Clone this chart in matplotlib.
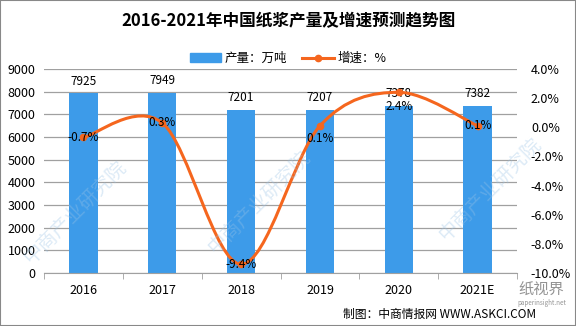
import matplotlib
matplotlib.use("Agg")
import matplotlib.pyplot as plt
from matplotlib.path import Path
from matplotlib.patches import PathPatch
from matplotlib.lines import Line2D
from matplotlib.patches import Patch

plt.rcParams["font.family"] = ["Noto Sans CJK SC", "DejaVu Sans"]

years = ["2016", "2017", "2018", "2019", "2020", "2021E"]
output = [7925, 7949, 7201, 7207, 7378, 7382]
growth = [-0.7, 0.3, -9.4, 0.1, 2.4, 0.1]
growth_labels = ["-0.7%", "0.3%", "-9.4%", "0.1%", "2.4%", "0.1%"]

BAR = "#3d9be9"
LINE = "#f5661e"

fig = plt.figure(figsize=(5.76, 3.26), dpi=100)
ax = fig.add_axes([0.0764, 0.1626, 0.8212, 0.6257])
ax2 = ax.twinx()

x = list(range(len(years)))
ax.bar(x, output, width=0.36, color=BAR, zorder=2)
for xi, v in zip(x, output):
    ax.annotate(str(v), (xi, v), xytext=(0, 4), textcoords="offset points",
                ha="center", va="bottom", fontsize=8.5)

ax.set_xlim(-0.5, len(years) - 0.5)
ax.set_ylim(0, 9000)
ax.set_yticks(range(0, 9001, 1000))
ax.grid(axis="y", color="#a0a0a0", linewidth=0.9, zorder=0)
ax.set_axisbelow(True)
ax.set_xticks(x)
ax.set_xticklabels(years, fontsize=9)
ax.set_xticks([i - 0.5 for i in range(len(years) + 1)], minor=True)
ax.tick_params(axis="x", which="major", length=0, pad=8)
ax.tick_params(axis="x", which="minor", length=4, color="#a0a0a0")
ax.tick_params(axis="y", length=0, labelsize=9, pad=6)
for s in ["top", "left", "right"]:
    ax.spines[s].set_visible(False)
ax.spines["bottom"].set_color("#a0a0a0")

# smoothed growth line (Catmull-Rom style Bezier through the data points)
pts = list(zip(x, growth))
verts = [pts[0]]
codes = [Path.MOVETO]
for i in range(len(pts) - 1):
    p0 = pts[i - 1] if i > 0 else pts[i]
    p1, p2 = pts[i], pts[i + 1]
    p3 = pts[i + 2] if i + 2 < len(pts) else pts[i + 1]
    c1 = (p1[0] + (p2[0] - p0[0]) / 6, p1[1] + (p2[1] - p0[1]) / 6)
    c2 = (p2[0] - (p3[0] - p1[0]) / 6, p2[1] - (p3[1] - p1[1]) / 6)
    verts += [c1, c2, p2]
    codes += [Path.CURVE4] * 3
ax2.add_patch(PathPatch(Path(verts, codes), facecolor="none", edgecolor=LINE,
                        linewidth=2.2, zorder=3))
ax2.plot(x, growth, "o", color=LINE, markersize=4.5, zorder=4)
label_dy = [0, 0, 0, -9, -10, 0]
for xi, g, lab, dy in zip(x, growth, growth_labels, label_dy):
    ax2.annotate(lab, (xi, g), xytext=(0, dy), textcoords="offset points",
                 ha="center", va="center", fontsize=8.5, zorder=5)

ax2.set_ylim(-10, 4)
ax2.set_yticks(range(-10, 5, 2))
ax2.set_yticklabels([f"{t:.1f}%" for t in range(-10, 5, 2)])
ax2.tick_params(axis="y", length=0, labelsize=9, pad=10)
for s in ["top", "left", "right", "bottom"]:
    ax2.spines[s].set_visible(False)

fig.text(0.5, 0.935, "2016-2021年中国纸浆产量及增速预测趋势图", ha="center",
         va="center", fontsize=12, fontweight="bold")
handles = [Patch(color=BAR), Line2D([0], [0], color=LINE, lw=2.2, marker="o", markersize=4.5)]
fig.legend(handles, ["产量：万吨", "增速：%"], loc="center", bbox_to_anchor=(0.5, 0.82),
           ncol=2, frameon=False, fontsize=9, handlelength=2.5, columnspacing=1.2,
           handletextpad=0.3)

# watermarks
for wx, wy in [(0.13, 0.35), (0.45, 0.38), (0.85, 0.42)]:
    fig.text(wx, wy, "中商产业研究院", rotation=45, fontsize=14, color="#9cc4e6",
             alpha=0.35, ha="center", va="center", zorder=0)

fig.text(0.93, 0.035, "制图：中商情报网 WWW.ASKCI.COM", ha="right", va="center",
         fontsize=8.5)
fig.text(0.94, 0.11, "纸视界", ha="center", va="center", fontsize=11, color="#666666",
         alpha=0.7)
fig.text(0.94, 0.072, "paperinsight.net", ha="center", va="center", fontsize=4.5,
         color="#666666", alpha=0.7)

fig.patches.append(plt.Rectangle((0, 0), 1, 1, transform=fig.transFigure, fill=False,
                                 edgecolor="#888888", linewidth=1.5))
fig.savefig("out.png", dpi=100)
